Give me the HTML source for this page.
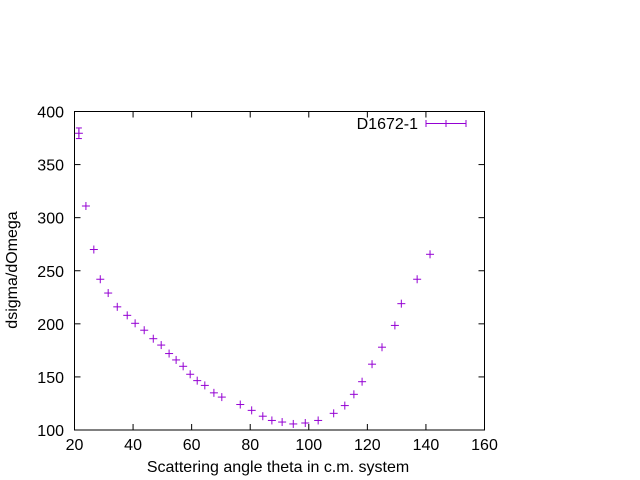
<!DOCTYPE html>
<html><head><meta charset="utf-8"><style>
body{margin:0;background:#fff}
svg{display:block;font-family:"Liberation Sans",sans-serif;font-size:16px}
</style></head><body>
<svg width="640" height="480" id="c">
<rect x="0" y="0" width="640" height="480" fill="#fff"/>
<g id="grid"></g>
<rect x="74.5" y="111.5" width="410" height="318.5" fill="none" stroke="#000" stroke-width="1"/>
<text x="17" y="270" transform="rotate(-90 17 270)" text-anchor="middle">dsigma/dOmega</text>
<text x="278" y="472" text-anchor="middle">Scattering angle theta in c.m. system</text>
<g>
<text x="418" y="129" text-anchor="end">D1672-1</text>
<line x1="426" y1="123.5" x2="466" y2="123.5" stroke="#9400d3"/>
<line x1="426" y1="120" x2="426" y2="127" stroke="#9400d3"/>
<line x1="466" y1="120" x2="466" y2="127" stroke="#9400d3"/>
<line x1="446" y1="120" x2="446" y2="127" stroke="#9400d3"/>
</g>
<g id="pts"></g>
</svg>
<script>
const xTicks=[20,40,60,80,100,120,140,160];
const yTicks=[100,150,200,250,300,350,400];
const theta=[21.5,23.9,26.6,28.8,31.5,34.6,38.0,40.7,43.8,46.9,49.6,52.3,54.7,57.1,59.5,61.9,64.5,67.6,70.3,76.6,80.5,84.3,87.4,90.9,94.7,98.8,103.2,108.5,112.3,115.4,118.2,121.6,125.0,129.4,131.6,137.0,141.4];
const sigma=[379.5,311,270,242,229,216,208,200.5,194,186,180,172,166,160,152.5,146.5,142,135,131,124,118.5,113,109,107.5,105.7,106.6,109,115.7,123,133.6,145.5,162,178,198.5,219,242,265.5];
const err=[5,0.3,0.3,0.3,0.3,0.3,0.3,0.3,0.3,0.3,0.3,0.3,0.3,0.3,0.3,0.3,0.3,0.3,0.3,0.3,0.3,0.3,0.3,0.3,0.3,0.3,0.3,0.3,0.3,0.3,0.3,0.3,0.3,0.3,0.3,0.3,0.3];
const NS='http://www.w3.org/2000/svg';
const X=v=>74.5+(v-20)*410/140;
const Y=v=>430-(v-100)*318.5/300;
function mk(t,a,p){const e=document.createElementNS(NS,t);for(const k in a)e.setAttribute(k,a[k]);p.appendChild(e);return e;}
const g=document.getElementById('grid');
xTicks.forEach(t=>{
 const x=X(t);
 const l=mk('line',{x1:x,x2:x,y1:430,y2:424,stroke:'#000'},g);
 
 
 const l2=mk('line',{x1:x,x2:x,y1:111.5,y2:117.5,stroke:'#000'},g);
 
 
 const tx=mk('text',{x:x,y:450,'text-anchor':'middle'},g);tx.textContent=t;
 
 
});
yTicks.forEach(t=>{
 const y=Y(t);
 const l=mk('line',{x1:74.5,x2:80.5,y1:y,y2:y,stroke:'#000'},g);
 
 
 const l2=mk('line',{x1:484.5,x2:478.5,y1:y,y2:y,stroke:'#000'},g);
 
 
 const tx=mk('text',{x:64,y:y+6,'text-anchor':'end'},g);tx.textContent=t;
 
 
});
const p=document.getElementById('pts');
theta.forEach((t,i)=>{
 const x=X(t),y=Y(sigma[i]),y1=Y(sigma[i]+err[i]),y2=Y(sigma[i]-err[i]);
 const gg=mk('g',{stroke:'#9400d3','stroke-width':1},p);
 
 
 mk('line',{x1:x-4,x2:x+4,y1:y,y2:y},gg);
 mk('line',{x1:x,x2:x,y1:y-4,y2:y+4},gg);
 if(Math.abs(y2-y1)>4){
  mk('line',{x1:x,x2:x,y1:y1,y2:y2},gg);
  mk('line',{x1:x-3,x2:x+3,y1:y1,y2:y1},gg);
  mk('line',{x1:x-3,x2:x+3,y1:y2,y2:y2},gg);
 }
});
</script>
</body></html>
